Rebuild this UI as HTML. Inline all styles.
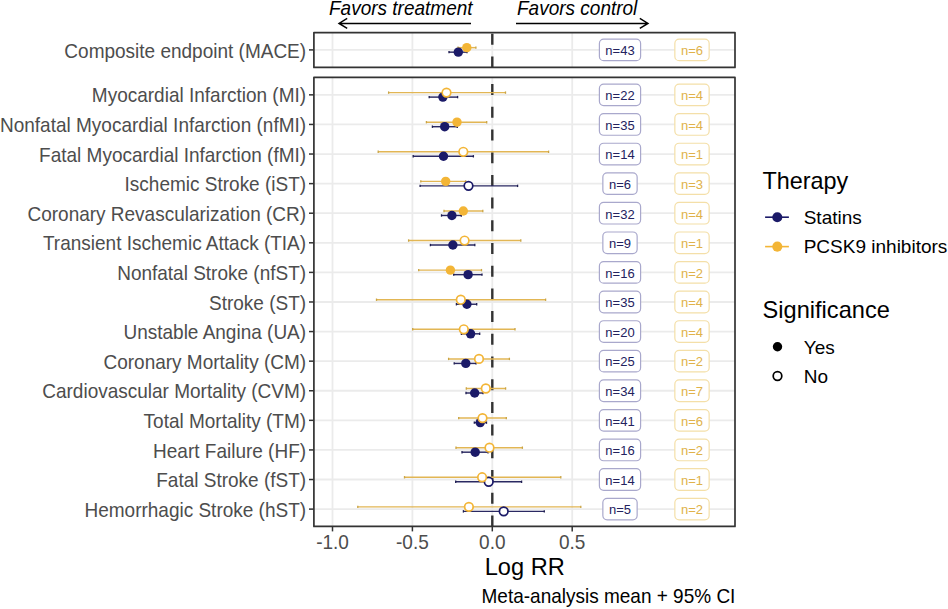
<!DOCTYPE html>
<html><head><meta charset="utf-8"><style>
html,body{margin:0;padding:0;background:#fff;}
svg{display:block;font-family:"Liberation Sans",sans-serif;}
</style></head><body>
<svg width="948" height="609" viewBox="0 0 948 609">
<rect width="948" height="609" fill="#fff"/>
<line x1="332.5" x2="332.5" y1="32.6" y2="67.4" stroke="#ebebeb" stroke-width="1.8"/>
<line x1="412.4" x2="412.4" y1="32.6" y2="67.4" stroke="#ebebeb" stroke-width="1.8"/>
<line x1="492.3" x2="492.3" y1="32.6" y2="67.4" stroke="#ebebeb" stroke-width="1.8"/>
<line x1="572.2" x2="572.2" y1="32.6" y2="67.4" stroke="#ebebeb" stroke-width="1.8"/>
<line x1="313.9" x2="735.0" y1="49.9" y2="49.9" stroke="#ebebeb" stroke-width="1.8"/>
<line x1="492.3" x2="492.3" y1="67.4" y2="32.6" stroke="#333" stroke-width="2.4" stroke-dasharray="11 11.7"/>
<line x1="449.0" x2="467.0" y1="52.15" y2="52.15" stroke="#2a2962" stroke-width="1.45"/>
<line x1="449.0" x2="449.0" y1="50.949999999999996" y2="53.35" stroke="#1e1d50" stroke-width="1.3"/>
<line x1="467.0" x2="467.0" y1="50.949999999999996" y2="53.35" stroke="#1e1d50" stroke-width="1.3"/>
<line x1="458.0" x2="475.9" y1="47.65" y2="47.65" stroke="#e2b654" stroke-width="1.45"/>
<line x1="458.0" x2="458.0" y1="46.449999999999996" y2="48.85" stroke="#c9a445" stroke-width="1.3"/>
<line x1="475.9" x2="475.9" y1="46.449999999999996" y2="48.85" stroke="#c9a445" stroke-width="1.3"/>
<circle cx="458.3" cy="52.15" r="4.7" fill="#1b1a68"/>
<circle cx="466.8" cy="47.65" r="4.7" fill="#f3b536"/>
<rect x="599.4" y="39.099999999999994" width="41.2" height="21.6" rx="4.3" fill="#fff" stroke="#a9a8cc" stroke-width="1.2"/><text transform="translate(620.00 55.20) scale(1.0 1.04)" text-anchor="middle" font-size="13" fill="#23225e">n=43</text>
<rect x="674.85" y="39.099999999999994" width="34.3" height="21.6" rx="4.3" fill="#fff" stroke="#f4dfa8" stroke-width="1.2"/><text transform="translate(692.00 55.20) scale(1.0 1.04)" text-anchor="middle" font-size="13" fill="#e0b24a">n=6</text>
<rect x="313.9" y="32.6" width="421.1" height="34.800000000000004" fill="none" stroke="#333333" stroke-width="1.7" stroke-linejoin="round"/>
<line x1="309.0" x2="313.9" y1="49.9" y2="49.9" stroke="#333333" stroke-width="1.5"/>
<text transform="translate(306.10 57.50) scale(1.0 1.04)" text-anchor="end" font-size="19" fill="#4d4d4d">Composite endpoint (MACE)</text>
<line x1="332.5" x2="332.5" y1="77.4" y2="526.4" stroke="#ebebeb" stroke-width="1.8"/>
<line x1="412.4" x2="412.4" y1="77.4" y2="526.4" stroke="#ebebeb" stroke-width="1.8"/>
<line x1="492.3" x2="492.3" y1="77.4" y2="526.4" stroke="#ebebeb" stroke-width="1.8"/>
<line x1="572.2" x2="572.2" y1="77.4" y2="526.4" stroke="#ebebeb" stroke-width="1.8"/>
<line x1="313.9" x2="735.0" y1="94.85" y2="94.85" stroke="#ebebeb" stroke-width="1.8"/>
<line x1="313.9" x2="735.0" y1="124.44" y2="124.44" stroke="#ebebeb" stroke-width="1.8"/>
<line x1="313.9" x2="735.0" y1="154.03" y2="154.03" stroke="#ebebeb" stroke-width="1.8"/>
<line x1="313.9" x2="735.0" y1="183.62" y2="183.62" stroke="#ebebeb" stroke-width="1.8"/>
<line x1="313.9" x2="735.0" y1="213.20999999999998" y2="213.20999999999998" stroke="#ebebeb" stroke-width="1.8"/>
<line x1="313.9" x2="735.0" y1="242.79999999999998" y2="242.79999999999998" stroke="#ebebeb" stroke-width="1.8"/>
<line x1="313.9" x2="735.0" y1="272.39" y2="272.39" stroke="#ebebeb" stroke-width="1.8"/>
<line x1="313.9" x2="735.0" y1="301.98" y2="301.98" stroke="#ebebeb" stroke-width="1.8"/>
<line x1="313.9" x2="735.0" y1="331.57" y2="331.57" stroke="#ebebeb" stroke-width="1.8"/>
<line x1="313.9" x2="735.0" y1="361.15999999999997" y2="361.15999999999997" stroke="#ebebeb" stroke-width="1.8"/>
<line x1="313.9" x2="735.0" y1="390.75" y2="390.75" stroke="#ebebeb" stroke-width="1.8"/>
<line x1="313.9" x2="735.0" y1="420.34000000000003" y2="420.34000000000003" stroke="#ebebeb" stroke-width="1.8"/>
<line x1="313.9" x2="735.0" y1="449.92999999999995" y2="449.92999999999995" stroke="#ebebeb" stroke-width="1.8"/>
<line x1="313.9" x2="735.0" y1="479.52" y2="479.52" stroke="#ebebeb" stroke-width="1.8"/>
<line x1="313.9" x2="735.0" y1="509.11" y2="509.11" stroke="#ebebeb" stroke-width="1.8"/>
<line x1="492.3" x2="492.3" y1="526.4" y2="77.4" stroke="#333" stroke-width="2.4" stroke-dasharray="11 11.7"/>
<line x1="429.2" x2="457.6" y1="97.1" y2="97.1" stroke="#2a2962" stroke-width="1.45"/>
<line x1="429.2" x2="429.2" y1="95.89999999999999" y2="98.3" stroke="#1e1d50" stroke-width="1.3"/>
<line x1="457.6" x2="457.6" y1="95.89999999999999" y2="98.3" stroke="#1e1d50" stroke-width="1.3"/>
<line x1="388.6" x2="505.5" y1="92.6" y2="92.6" stroke="#e2b654" stroke-width="1.45"/>
<line x1="388.6" x2="388.6" y1="91.39999999999999" y2="93.8" stroke="#c9a445" stroke-width="1.3"/>
<line x1="505.5" x2="505.5" y1="91.39999999999999" y2="93.8" stroke="#c9a445" stroke-width="1.3"/>
<line x1="432.4" x2="457.3" y1="126.69" y2="126.69" stroke="#2a2962" stroke-width="1.45"/>
<line x1="432.4" x2="432.4" y1="125.49" y2="127.89" stroke="#1e1d50" stroke-width="1.3"/>
<line x1="457.3" x2="457.3" y1="125.49" y2="127.89" stroke="#1e1d50" stroke-width="1.3"/>
<line x1="426.4" x2="486.7" y1="122.19" y2="122.19" stroke="#e2b654" stroke-width="1.45"/>
<line x1="426.4" x2="426.4" y1="120.99" y2="123.39" stroke="#c9a445" stroke-width="1.3"/>
<line x1="486.7" x2="486.7" y1="120.99" y2="123.39" stroke="#c9a445" stroke-width="1.3"/>
<line x1="413.2" x2="473.4" y1="156.28" y2="156.28" stroke="#2a2962" stroke-width="1.45"/>
<line x1="413.2" x2="413.2" y1="155.08" y2="157.48" stroke="#1e1d50" stroke-width="1.3"/>
<line x1="473.4" x2="473.4" y1="155.08" y2="157.48" stroke="#1e1d50" stroke-width="1.3"/>
<line x1="378.2" x2="548.6" y1="151.78" y2="151.78" stroke="#e2b654" stroke-width="1.45"/>
<line x1="378.2" x2="378.2" y1="150.58" y2="152.98" stroke="#c9a445" stroke-width="1.3"/>
<line x1="548.6" x2="548.6" y1="150.58" y2="152.98" stroke="#c9a445" stroke-width="1.3"/>
<line x1="420.1" x2="517.6" y1="185.87" y2="185.87" stroke="#2a2962" stroke-width="1.45"/>
<line x1="420.1" x2="420.1" y1="184.67000000000002" y2="187.07" stroke="#1e1d50" stroke-width="1.3"/>
<line x1="517.6" x2="517.6" y1="184.67000000000002" y2="187.07" stroke="#1e1d50" stroke-width="1.3"/>
<line x1="420.8" x2="465.7" y1="181.37" y2="181.37" stroke="#e2b654" stroke-width="1.45"/>
<line x1="420.8" x2="420.8" y1="180.17000000000002" y2="182.57" stroke="#c9a445" stroke-width="1.3"/>
<line x1="465.7" x2="465.7" y1="180.17000000000002" y2="182.57" stroke="#c9a445" stroke-width="1.3"/>
<line x1="441.5" x2="461.3" y1="215.45999999999998" y2="215.45999999999998" stroke="#2a2962" stroke-width="1.45"/>
<line x1="441.5" x2="441.5" y1="214.26" y2="216.65999999999997" stroke="#1e1d50" stroke-width="1.3"/>
<line x1="461.3" x2="461.3" y1="214.26" y2="216.65999999999997" stroke="#1e1d50" stroke-width="1.3"/>
<line x1="444.0" x2="482.8" y1="210.95999999999998" y2="210.95999999999998" stroke="#e2b654" stroke-width="1.45"/>
<line x1="444.0" x2="444.0" y1="209.76" y2="212.15999999999997" stroke="#c9a445" stroke-width="1.3"/>
<line x1="482.8" x2="482.8" y1="209.76" y2="212.15999999999997" stroke="#c9a445" stroke-width="1.3"/>
<line x1="430.4" x2="474.8" y1="245.04999999999998" y2="245.04999999999998" stroke="#2a2962" stroke-width="1.45"/>
<line x1="430.4" x2="430.4" y1="243.85" y2="246.24999999999997" stroke="#1e1d50" stroke-width="1.3"/>
<line x1="474.8" x2="474.8" y1="243.85" y2="246.24999999999997" stroke="#1e1d50" stroke-width="1.3"/>
<line x1="408.6" x2="520.8" y1="240.54999999999998" y2="240.54999999999998" stroke="#e2b654" stroke-width="1.45"/>
<line x1="408.6" x2="408.6" y1="239.35" y2="241.74999999999997" stroke="#c9a445" stroke-width="1.3"/>
<line x1="520.8" x2="520.8" y1="239.35" y2="241.74999999999997" stroke="#c9a445" stroke-width="1.3"/>
<line x1="453.7" x2="482.0" y1="274.64" y2="274.64" stroke="#2a2962" stroke-width="1.45"/>
<line x1="453.7" x2="453.7" y1="273.44" y2="275.84" stroke="#1e1d50" stroke-width="1.3"/>
<line x1="482.0" x2="482.0" y1="273.44" y2="275.84" stroke="#1e1d50" stroke-width="1.3"/>
<line x1="418.7" x2="481.5" y1="270.14" y2="270.14" stroke="#e2b654" stroke-width="1.45"/>
<line x1="418.7" x2="418.7" y1="268.94" y2="271.34" stroke="#c9a445" stroke-width="1.3"/>
<line x1="481.5" x2="481.5" y1="268.94" y2="271.34" stroke="#c9a445" stroke-width="1.3"/>
<line x1="456.4" x2="476.7" y1="304.23" y2="304.23" stroke="#2a2962" stroke-width="1.45"/>
<line x1="456.4" x2="456.4" y1="303.03000000000003" y2="305.43" stroke="#1e1d50" stroke-width="1.3"/>
<line x1="476.7" x2="476.7" y1="303.03000000000003" y2="305.43" stroke="#1e1d50" stroke-width="1.3"/>
<line x1="376.5" x2="545.6" y1="299.73" y2="299.73" stroke="#e2b654" stroke-width="1.45"/>
<line x1="376.5" x2="376.5" y1="298.53000000000003" y2="300.93" stroke="#c9a445" stroke-width="1.3"/>
<line x1="545.6" x2="545.6" y1="298.53000000000003" y2="300.93" stroke="#c9a445" stroke-width="1.3"/>
<line x1="461.4" x2="479.7" y1="333.82" y2="333.82" stroke="#2a2962" stroke-width="1.45"/>
<line x1="461.4" x2="461.4" y1="332.62" y2="335.02" stroke="#1e1d50" stroke-width="1.3"/>
<line x1="479.7" x2="479.7" y1="332.62" y2="335.02" stroke="#1e1d50" stroke-width="1.3"/>
<line x1="412.7" x2="515.0" y1="329.32" y2="329.32" stroke="#e2b654" stroke-width="1.45"/>
<line x1="412.7" x2="412.7" y1="328.12" y2="330.52" stroke="#c9a445" stroke-width="1.3"/>
<line x1="515.0" x2="515.0" y1="328.12" y2="330.52" stroke="#c9a445" stroke-width="1.3"/>
<line x1="454.2" x2="476.0" y1="363.40999999999997" y2="363.40999999999997" stroke="#2a2962" stroke-width="1.45"/>
<line x1="454.2" x2="454.2" y1="362.21" y2="364.60999999999996" stroke="#1e1d50" stroke-width="1.3"/>
<line x1="476.0" x2="476.0" y1="362.21" y2="364.60999999999996" stroke="#1e1d50" stroke-width="1.3"/>
<line x1="448.6" x2="509.4" y1="358.90999999999997" y2="358.90999999999997" stroke="#e2b654" stroke-width="1.45"/>
<line x1="448.6" x2="448.6" y1="357.71" y2="360.10999999999996" stroke="#c9a445" stroke-width="1.3"/>
<line x1="509.4" x2="509.4" y1="357.71" y2="360.10999999999996" stroke="#c9a445" stroke-width="1.3"/>
<line x1="466.0" x2="483.0" y1="393.0" y2="393.0" stroke="#2a2962" stroke-width="1.45"/>
<line x1="466.0" x2="466.0" y1="391.8" y2="394.2" stroke="#1e1d50" stroke-width="1.3"/>
<line x1="483.0" x2="483.0" y1="391.8" y2="394.2" stroke="#1e1d50" stroke-width="1.3"/>
<line x1="466.3" x2="505.6" y1="388.5" y2="388.5" stroke="#e2b654" stroke-width="1.45"/>
<line x1="466.3" x2="466.3" y1="387.3" y2="389.7" stroke="#c9a445" stroke-width="1.3"/>
<line x1="505.6" x2="505.6" y1="387.3" y2="389.7" stroke="#c9a445" stroke-width="1.3"/>
<line x1="474.3" x2="486.5" y1="422.59000000000003" y2="422.59000000000003" stroke="#2a2962" stroke-width="1.45"/>
<line x1="474.3" x2="474.3" y1="421.39000000000004" y2="423.79" stroke="#1e1d50" stroke-width="1.3"/>
<line x1="486.5" x2="486.5" y1="421.39000000000004" y2="423.79" stroke="#1e1d50" stroke-width="1.3"/>
<line x1="458.7" x2="506.3" y1="418.09000000000003" y2="418.09000000000003" stroke="#e2b654" stroke-width="1.45"/>
<line x1="458.7" x2="458.7" y1="416.89000000000004" y2="419.29" stroke="#c9a445" stroke-width="1.3"/>
<line x1="506.3" x2="506.3" y1="416.89000000000004" y2="419.29" stroke="#c9a445" stroke-width="1.3"/>
<line x1="462.0" x2="488.0" y1="452.17999999999995" y2="452.17999999999995" stroke="#2a2962" stroke-width="1.45"/>
<line x1="462.0" x2="462.0" y1="450.97999999999996" y2="453.37999999999994" stroke="#1e1d50" stroke-width="1.3"/>
<line x1="488.0" x2="488.0" y1="450.97999999999996" y2="453.37999999999994" stroke="#1e1d50" stroke-width="1.3"/>
<line x1="456.0" x2="522.4" y1="447.67999999999995" y2="447.67999999999995" stroke="#e2b654" stroke-width="1.45"/>
<line x1="456.0" x2="456.0" y1="446.47999999999996" y2="448.87999999999994" stroke="#c9a445" stroke-width="1.3"/>
<line x1="522.4" x2="522.4" y1="446.47999999999996" y2="448.87999999999994" stroke="#c9a445" stroke-width="1.3"/>
<line x1="455.7" x2="521.6" y1="481.77" y2="481.77" stroke="#2a2962" stroke-width="1.45"/>
<line x1="455.7" x2="455.7" y1="480.57" y2="482.96999999999997" stroke="#1e1d50" stroke-width="1.3"/>
<line x1="521.6" x2="521.6" y1="480.57" y2="482.96999999999997" stroke="#1e1d50" stroke-width="1.3"/>
<line x1="404.5" x2="560.8" y1="477.27" y2="477.27" stroke="#e2b654" stroke-width="1.45"/>
<line x1="404.5" x2="404.5" y1="476.07" y2="478.46999999999997" stroke="#c9a445" stroke-width="1.3"/>
<line x1="560.8" x2="560.8" y1="476.07" y2="478.46999999999997" stroke="#c9a445" stroke-width="1.3"/>
<line x1="463.4" x2="544.3" y1="511.36" y2="511.36" stroke="#2a2962" stroke-width="1.45"/>
<line x1="463.4" x2="463.4" y1="510.16" y2="512.5600000000001" stroke="#1e1d50" stroke-width="1.3"/>
<line x1="544.3" x2="544.3" y1="510.16" y2="512.5600000000001" stroke="#1e1d50" stroke-width="1.3"/>
<line x1="357.8" x2="580.8" y1="506.86" y2="506.86" stroke="#e2b654" stroke-width="1.45"/>
<line x1="357.8" x2="357.8" y1="505.66" y2="508.06" stroke="#c9a445" stroke-width="1.3"/>
<line x1="580.8" x2="580.8" y1="505.66" y2="508.06" stroke="#c9a445" stroke-width="1.3"/>
<circle cx="442.9" cy="97.1" r="4.7" fill="#1b1a68"/>
<circle cx="446.5" cy="92.6" r="4.3" fill="#fff" stroke="#f3b536" stroke-width="1.7"/>
<circle cx="444.7" cy="126.69" r="4.7" fill="#1b1a68"/>
<circle cx="457.0" cy="122.19" r="4.7" fill="#f3b536"/>
<circle cx="443.5" cy="156.28" r="4.7" fill="#1b1a68"/>
<circle cx="463.3" cy="151.78" r="4.3" fill="#fff" stroke="#f3b536" stroke-width="1.7"/>
<circle cx="468.5" cy="185.87" r="4.3" fill="#fff" stroke="#1b1a68" stroke-width="1.7"/>
<circle cx="445.7" cy="181.37" r="4.7" fill="#f3b536"/>
<circle cx="451.9" cy="215.45999999999998" r="4.7" fill="#1b1a68"/>
<circle cx="463.3" cy="210.95999999999998" r="4.7" fill="#f3b536"/>
<circle cx="452.9" cy="245.04999999999998" r="4.7" fill="#1b1a68"/>
<circle cx="464.6" cy="240.54999999999998" r="4.3" fill="#fff" stroke="#f3b536" stroke-width="1.7"/>
<circle cx="468.1" cy="274.64" r="4.7" fill="#1b1a68"/>
<circle cx="450.4" cy="270.14" r="4.7" fill="#f3b536"/>
<circle cx="466.9" cy="304.23" r="4.7" fill="#1b1a68"/>
<circle cx="460.8" cy="299.73" r="4.3" fill="#fff" stroke="#f3b536" stroke-width="1.7"/>
<circle cx="470.6" cy="333.82" r="4.7" fill="#1b1a68"/>
<circle cx="463.8" cy="329.32" r="4.3" fill="#fff" stroke="#f3b536" stroke-width="1.7"/>
<circle cx="465.8" cy="363.40999999999997" r="4.7" fill="#1b1a68"/>
<circle cx="479.0" cy="358.90999999999997" r="4.3" fill="#fff" stroke="#f3b536" stroke-width="1.7"/>
<circle cx="474.7" cy="393.0" r="4.7" fill="#1b1a68"/>
<circle cx="485.8" cy="388.5" r="4.3" fill="#fff" stroke="#f3b536" stroke-width="1.7"/>
<circle cx="480.2" cy="422.59000000000003" r="4.7" fill="#1b1a68"/>
<circle cx="482.5" cy="418.09000000000003" r="4.3" fill="#fff" stroke="#f3b536" stroke-width="1.7"/>
<circle cx="475.2" cy="452.17999999999995" r="4.7" fill="#1b1a68"/>
<circle cx="489.5" cy="447.67999999999995" r="4.3" fill="#fff" stroke="#f3b536" stroke-width="1.7"/>
<circle cx="488.7" cy="481.77" r="4.3" fill="#fff" stroke="#1b1a68" stroke-width="1.7"/>
<circle cx="482.1" cy="477.27" r="4.3" fill="#fff" stroke="#f3b536" stroke-width="1.7"/>
<circle cx="503.7" cy="511.36" r="4.3" fill="#fff" stroke="#1b1a68" stroke-width="1.7"/>
<circle cx="468.9" cy="506.86" r="4.3" fill="#fff" stroke="#f3b536" stroke-width="1.7"/>
<rect x="599.4" y="84.05" width="41.2" height="21.6" rx="4.3" fill="#fff" stroke="#a9a8cc" stroke-width="1.2"/><text transform="translate(620.00 100.15) scale(1.0 1.04)" text-anchor="middle" font-size="13" fill="#23225e">n=22</text>
<rect x="674.85" y="84.05" width="34.3" height="21.6" rx="4.3" fill="#fff" stroke="#f4dfa8" stroke-width="1.2"/><text transform="translate(692.00 100.15) scale(1.0 1.04)" text-anchor="middle" font-size="13" fill="#e0b24a">n=4</text>
<rect x="599.4" y="113.64" width="41.2" height="21.6" rx="4.3" fill="#fff" stroke="#a9a8cc" stroke-width="1.2"/><text transform="translate(620.00 129.74) scale(1.0 1.04)" text-anchor="middle" font-size="13" fill="#23225e">n=35</text>
<rect x="674.85" y="113.64" width="34.3" height="21.6" rx="4.3" fill="#fff" stroke="#f4dfa8" stroke-width="1.2"/><text transform="translate(692.00 129.74) scale(1.0 1.04)" text-anchor="middle" font-size="13" fill="#e0b24a">n=4</text>
<rect x="599.4" y="143.23" width="41.2" height="21.6" rx="4.3" fill="#fff" stroke="#a9a8cc" stroke-width="1.2"/><text transform="translate(620.00 159.33) scale(1.0 1.04)" text-anchor="middle" font-size="13" fill="#23225e">n=14</text>
<rect x="674.85" y="143.23" width="34.3" height="21.6" rx="4.3" fill="#fff" stroke="#f4dfa8" stroke-width="1.2"/><text transform="translate(692.00 159.33) scale(1.0 1.04)" text-anchor="middle" font-size="13" fill="#e0b24a">n=1</text>
<rect x="602.85" y="172.82" width="34.3" height="21.6" rx="4.3" fill="#fff" stroke="#a9a8cc" stroke-width="1.2"/><text transform="translate(620.00 188.92) scale(1.0 1.04)" text-anchor="middle" font-size="13" fill="#23225e">n=6</text>
<rect x="674.85" y="172.82" width="34.3" height="21.6" rx="4.3" fill="#fff" stroke="#f4dfa8" stroke-width="1.2"/><text transform="translate(692.00 188.92) scale(1.0 1.04)" text-anchor="middle" font-size="13" fill="#e0b24a">n=3</text>
<rect x="599.4" y="202.40999999999997" width="41.2" height="21.6" rx="4.3" fill="#fff" stroke="#a9a8cc" stroke-width="1.2"/><text transform="translate(620.00 218.51) scale(1.0 1.04)" text-anchor="middle" font-size="13" fill="#23225e">n=32</text>
<rect x="674.85" y="202.40999999999997" width="34.3" height="21.6" rx="4.3" fill="#fff" stroke="#f4dfa8" stroke-width="1.2"/><text transform="translate(692.00 218.51) scale(1.0 1.04)" text-anchor="middle" font-size="13" fill="#e0b24a">n=4</text>
<rect x="602.85" y="231.99999999999997" width="34.3" height="21.6" rx="4.3" fill="#fff" stroke="#a9a8cc" stroke-width="1.2"/><text transform="translate(620.00 248.10) scale(1.0 1.04)" text-anchor="middle" font-size="13" fill="#23225e">n=9</text>
<rect x="674.85" y="231.99999999999997" width="34.3" height="21.6" rx="4.3" fill="#fff" stroke="#f4dfa8" stroke-width="1.2"/><text transform="translate(692.00 248.10) scale(1.0 1.04)" text-anchor="middle" font-size="13" fill="#e0b24a">n=1</text>
<rect x="599.4" y="261.59" width="41.2" height="21.6" rx="4.3" fill="#fff" stroke="#a9a8cc" stroke-width="1.2"/><text transform="translate(620.00 277.69) scale(1.0 1.04)" text-anchor="middle" font-size="13" fill="#23225e">n=16</text>
<rect x="674.85" y="261.59" width="34.3" height="21.6" rx="4.3" fill="#fff" stroke="#f4dfa8" stroke-width="1.2"/><text transform="translate(692.00 277.69) scale(1.0 1.04)" text-anchor="middle" font-size="13" fill="#e0b24a">n=2</text>
<rect x="599.4" y="291.18" width="41.2" height="21.6" rx="4.3" fill="#fff" stroke="#a9a8cc" stroke-width="1.2"/><text transform="translate(620.00 307.28) scale(1.0 1.04)" text-anchor="middle" font-size="13" fill="#23225e">n=35</text>
<rect x="674.85" y="291.18" width="34.3" height="21.6" rx="4.3" fill="#fff" stroke="#f4dfa8" stroke-width="1.2"/><text transform="translate(692.00 307.28) scale(1.0 1.04)" text-anchor="middle" font-size="13" fill="#e0b24a">n=4</text>
<rect x="599.4" y="320.77" width="41.2" height="21.6" rx="4.3" fill="#fff" stroke="#a9a8cc" stroke-width="1.2"/><text transform="translate(620.00 336.87) scale(1.0 1.04)" text-anchor="middle" font-size="13" fill="#23225e">n=20</text>
<rect x="674.85" y="320.77" width="34.3" height="21.6" rx="4.3" fill="#fff" stroke="#f4dfa8" stroke-width="1.2"/><text transform="translate(692.00 336.87) scale(1.0 1.04)" text-anchor="middle" font-size="13" fill="#e0b24a">n=4</text>
<rect x="599.4" y="350.35999999999996" width="41.2" height="21.6" rx="4.3" fill="#fff" stroke="#a9a8cc" stroke-width="1.2"/><text transform="translate(620.00 366.46) scale(1.0 1.04)" text-anchor="middle" font-size="13" fill="#23225e">n=25</text>
<rect x="674.85" y="350.35999999999996" width="34.3" height="21.6" rx="4.3" fill="#fff" stroke="#f4dfa8" stroke-width="1.2"/><text transform="translate(692.00 366.46) scale(1.0 1.04)" text-anchor="middle" font-size="13" fill="#e0b24a">n=2</text>
<rect x="599.4" y="379.95" width="41.2" height="21.6" rx="4.3" fill="#fff" stroke="#a9a8cc" stroke-width="1.2"/><text transform="translate(620.00 396.05) scale(1.0 1.04)" text-anchor="middle" font-size="13" fill="#23225e">n=34</text>
<rect x="674.85" y="379.95" width="34.3" height="21.6" rx="4.3" fill="#fff" stroke="#f4dfa8" stroke-width="1.2"/><text transform="translate(692.00 396.05) scale(1.0 1.04)" text-anchor="middle" font-size="13" fill="#e0b24a">n=7</text>
<rect x="599.4" y="409.54" width="41.2" height="21.6" rx="4.3" fill="#fff" stroke="#a9a8cc" stroke-width="1.2"/><text transform="translate(620.00 425.64) scale(1.0 1.04)" text-anchor="middle" font-size="13" fill="#23225e">n=41</text>
<rect x="674.85" y="409.54" width="34.3" height="21.6" rx="4.3" fill="#fff" stroke="#f4dfa8" stroke-width="1.2"/><text transform="translate(692.00 425.64) scale(1.0 1.04)" text-anchor="middle" font-size="13" fill="#e0b24a">n=6</text>
<rect x="599.4" y="439.12999999999994" width="41.2" height="21.6" rx="4.3" fill="#fff" stroke="#a9a8cc" stroke-width="1.2"/><text transform="translate(620.00 455.23) scale(1.0 1.04)" text-anchor="middle" font-size="13" fill="#23225e">n=16</text>
<rect x="674.85" y="439.12999999999994" width="34.3" height="21.6" rx="4.3" fill="#fff" stroke="#f4dfa8" stroke-width="1.2"/><text transform="translate(692.00 455.23) scale(1.0 1.04)" text-anchor="middle" font-size="13" fill="#e0b24a">n=2</text>
<rect x="599.4" y="468.71999999999997" width="41.2" height="21.6" rx="4.3" fill="#fff" stroke="#a9a8cc" stroke-width="1.2"/><text transform="translate(620.00 484.82) scale(1.0 1.04)" text-anchor="middle" font-size="13" fill="#23225e">n=14</text>
<rect x="674.85" y="468.71999999999997" width="34.3" height="21.6" rx="4.3" fill="#fff" stroke="#f4dfa8" stroke-width="1.2"/><text transform="translate(692.00 484.82) scale(1.0 1.04)" text-anchor="middle" font-size="13" fill="#e0b24a">n=1</text>
<rect x="602.85" y="498.31" width="34.3" height="21.6" rx="4.3" fill="#fff" stroke="#a9a8cc" stroke-width="1.2"/><text transform="translate(620.00 514.41) scale(1.0 1.04)" text-anchor="middle" font-size="13" fill="#23225e">n=5</text>
<rect x="674.85" y="498.31" width="34.3" height="21.6" rx="4.3" fill="#fff" stroke="#f4dfa8" stroke-width="1.2"/><text transform="translate(692.00 514.41) scale(1.0 1.04)" text-anchor="middle" font-size="13" fill="#e0b24a">n=2</text>
<rect x="313.9" y="77.4" width="421.1" height="449.0" fill="none" stroke="#333333" stroke-width="1.7" stroke-linejoin="round"/>
<line x1="309.0" x2="313.9" y1="94.85" y2="94.85" stroke="#333333" stroke-width="1.5"/>
<text transform="translate(306.10 102.45) scale(1.0 1.04)" text-anchor="end" font-size="19" fill="#4d4d4d">Myocardial Infarction (MI)</text>
<line x1="309.0" x2="313.9" y1="124.44" y2="124.44" stroke="#333333" stroke-width="1.5"/>
<text transform="translate(306.10 132.04) scale(1.0 1.04)" text-anchor="end" font-size="19" fill="#4d4d4d">Nonfatal Myocardial Infarction (nfMI)</text>
<line x1="309.0" x2="313.9" y1="154.03" y2="154.03" stroke="#333333" stroke-width="1.5"/>
<text transform="translate(306.10 161.63) scale(1.0 1.04)" text-anchor="end" font-size="19" fill="#4d4d4d">Fatal Myocardial Infarction (fMI)</text>
<line x1="309.0" x2="313.9" y1="183.62" y2="183.62" stroke="#333333" stroke-width="1.5"/>
<text transform="translate(306.10 191.22) scale(1.0 1.04)" text-anchor="end" font-size="19" fill="#4d4d4d">Ischemic Stroke (iST)</text>
<line x1="309.0" x2="313.9" y1="213.20999999999998" y2="213.20999999999998" stroke="#333333" stroke-width="1.5"/>
<text transform="translate(306.10 220.81) scale(1.0 1.04)" text-anchor="end" font-size="19" fill="#4d4d4d">Coronary Revascularization (CR)</text>
<line x1="309.0" x2="313.9" y1="242.79999999999998" y2="242.79999999999998" stroke="#333333" stroke-width="1.5"/>
<text transform="translate(306.10 250.40) scale(1.0 1.04)" text-anchor="end" font-size="19" fill="#4d4d4d">Transient Ischemic Attack (TIA)</text>
<line x1="309.0" x2="313.9" y1="272.39" y2="272.39" stroke="#333333" stroke-width="1.5"/>
<text transform="translate(306.10 279.99) scale(1.0 1.04)" text-anchor="end" font-size="19" fill="#4d4d4d">Nonfatal Stroke (nfST)</text>
<line x1="309.0" x2="313.9" y1="301.98" y2="301.98" stroke="#333333" stroke-width="1.5"/>
<text transform="translate(306.10 309.58) scale(1.0 1.04)" text-anchor="end" font-size="19" fill="#4d4d4d">Stroke (ST)</text>
<line x1="309.0" x2="313.9" y1="331.57" y2="331.57" stroke="#333333" stroke-width="1.5"/>
<text transform="translate(306.10 339.17) scale(1.0 1.04)" text-anchor="end" font-size="19" fill="#4d4d4d">Unstable Angina (UA)</text>
<line x1="309.0" x2="313.9" y1="361.15999999999997" y2="361.15999999999997" stroke="#333333" stroke-width="1.5"/>
<text transform="translate(306.10 368.76) scale(1.0 1.04)" text-anchor="end" font-size="19" fill="#4d4d4d">Coronary Mortality (CM)</text>
<line x1="309.0" x2="313.9" y1="390.75" y2="390.75" stroke="#333333" stroke-width="1.5"/>
<text transform="translate(306.10 398.35) scale(1.0 1.04)" text-anchor="end" font-size="19" fill="#4d4d4d">Cardiovascular Mortality (CVM)</text>
<line x1="309.0" x2="313.9" y1="420.34000000000003" y2="420.34000000000003" stroke="#333333" stroke-width="1.5"/>
<text transform="translate(306.10 427.94) scale(1.0 1.04)" text-anchor="end" font-size="19" fill="#4d4d4d">Total Mortality (TM)</text>
<line x1="309.0" x2="313.9" y1="449.92999999999995" y2="449.92999999999995" stroke="#333333" stroke-width="1.5"/>
<text transform="translate(306.10 457.53) scale(1.0 1.04)" text-anchor="end" font-size="19" fill="#4d4d4d">Heart Failure (HF)</text>
<line x1="309.0" x2="313.9" y1="479.52" y2="479.52" stroke="#333333" stroke-width="1.5"/>
<text transform="translate(306.10 487.12) scale(1.0 1.04)" text-anchor="end" font-size="19" fill="#4d4d4d">Fatal Stroke (fST)</text>
<line x1="309.0" x2="313.9" y1="509.11" y2="509.11" stroke="#333333" stroke-width="1.5"/>
<text transform="translate(306.10 516.71) scale(1.0 1.04)" text-anchor="end" font-size="19" fill="#4d4d4d">Hemorrhagic Stroke (hST)</text>
<line x1="332.5" x2="332.5" y1="526.4" y2="531.4" stroke="#333333" stroke-width="1.5"/>
<text transform="translate(332.50 549.10) scale(1.0 1.04)" text-anchor="middle" font-size="19" fill="#4d4d4d">-1.0</text>
<line x1="412.4" x2="412.4" y1="526.4" y2="531.4" stroke="#333333" stroke-width="1.5"/>
<text transform="translate(412.40 549.10) scale(1.0 1.04)" text-anchor="middle" font-size="19" fill="#4d4d4d">-0.5</text>
<line x1="492.3" x2="492.3" y1="526.4" y2="531.4" stroke="#333333" stroke-width="1.5"/>
<text transform="translate(492.30 549.10) scale(1.0 1.04)" text-anchor="middle" font-size="19" fill="#4d4d4d">0.0</text>
<line x1="572.2" x2="572.2" y1="526.4" y2="531.4" stroke="#333333" stroke-width="1.5"/>
<text transform="translate(572.20 549.10) scale(1.0 1.04)" text-anchor="middle" font-size="19" fill="#4d4d4d">0.5</text>
<text transform="translate(524.75 574.90) scale(1.0 1.0)" text-anchor="middle" font-size="23.6" fill="#000">Log RR</text>
<text transform="translate(735.40 603.20) scale(1.0 1.04)" text-anchor="end" font-size="19" fill="#000">Meta-analysis mean + 95% CI</text>
<text transform="translate(329.00 14.80) scale(1.0 1.04)" font-size="19" fill="#000" font-style="italic">Favors treatment</text>
<text transform="translate(517.00 14.80) scale(1.0 1.04)" font-size="19" fill="#000" font-style="italic">Favors control</text>
<path d="M471 23.4H339M347.2 18.4L339 23.4L347.2 28.4" fill="none" stroke="#000" stroke-width="1.45"/>
<path d="M516 23.4H648M639.8 18.4L648 23.4L639.8 28.4" fill="none" stroke="#000" stroke-width="1.45"/>
<text transform="translate(762.50 188.50) scale(1.0 1.0)" font-size="23.4" fill="#000">Therapy</text>
<line x1="765.1" x2="788.9" y1="217.2" y2="217.2" stroke="#1b1a68" stroke-width="1.6"/>
<circle cx="777.3" cy="217.2" r="5.05" fill="#1b1a68"/>
<text transform="translate(803.70 223.50) scale(1.0 1.0)" font-size="19" fill="#000">Statins</text>
<line x1="765.1" x2="788.9" y1="246.6" y2="246.6" stroke="#f3b536" stroke-width="1.6"/>
<circle cx="777.3" cy="246.6" r="5.05" fill="#f3b536"/>
<text transform="translate(803.70 252.90) scale(1.0 1.0)" font-size="19" fill="#000">PCSK9 inhibitors</text>
<text transform="translate(762.60 318.10) scale(1.0 1.0)" font-size="23.6" fill="#000">Significance</text>
<circle cx="777.5" cy="346.7" r="4.7" fill="#000"/>
<text transform="translate(803.70 353.90) scale(1.0 1.0)" font-size="19" fill="#000">Yes</text>
<circle cx="777.5" cy="376" r="4.3" fill="#fff" stroke="#000" stroke-width="1.7"/>
<text transform="translate(803.70 383.20) scale(1.0 1.0)" font-size="19" fill="#000">No</text>
</svg>
</body></html>
